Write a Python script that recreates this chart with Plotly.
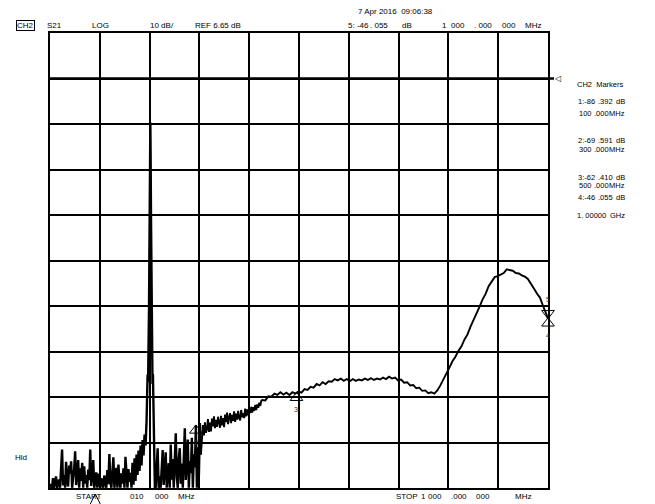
import plotly.graph_objects as go

# ---------------- data ----------------
# S21 trace, dB, swept in segments (start MHz, step MHz)
noise_a_start, noise_a_step = 10, 2
noise_a_db = [
    -83.3, -82.5, -83.3, -81.2, -83.3, -82.0, -80.8, -83.3, -82.6, -81.5,
    -83.3, -79.0, -74.9, -82.8, -80.5, -83.3, -77.6, -81.9, -83.0, -78.4,
    -80.2, -77.5, -83.3, -81.0, -79.2, -75.3, -82.7, -80.1, -77.2, -83.3,
    -79.0, -81.8, -77.8, -83.3, -78.6, -82.4, -80.5, -83.3, -79.3, -81.6,
    -74.9, -82.9, -80.3, -77.2, -83.3, -81.4, -79.9, -83.3, -80.2, -82.6,
    -83.3, -81.2, -82.8, -83.3, -80.6, -82.1, -83.3, -79.4, -82.5, -75.9,
    -82.0, -83.3, -79.8, -76.6, -83.3, -80.7, -78.9, -83.3, -78.2, -81.5,
    -83.3, -80.1, -82.4, -79.0, -83.3, -76.5, -81.6, -83.3, -79.2, -82.0,
    -80.0, -83.3, -77.8, -82.6, -76.8, -81.8, -76.0, -80.5, -75.1, -79.6,
    -74.0, -78.4, -72.8, -76.2, -71.6, -74.0,
]

spike_freq = [202, 203, 204, 205, 206, 206.8, 207.5, 208.2, 208.9, 209.5, 210.1,
              210.8, 211.5, 212.2, 213, 213.8, 214.6, 215.5, 216.5, 217.5, 218.5]
spike_db = [-68.5, -62.0, -58.4, -60.1, -55.0, -44.0, -33.0, -21.0, -10.0, -3.0, -11.5,
            -24.0, -36.0, -47.0, -57.5, -60.5, -58.3, -62.5, -69.0, -76.0, -83.3]

noise_b_start, noise_b_step = 220, 2
noise_b_db = [
    -83.3, -79.5, -74.6, -83.3, -80.8, -83.3, -78.9, -75.0, -82.7, -79.6,
    -75.5, -83.3, -80.2, -77.9, -83.3, -73.8, -81.5, -77.0, -83.3, -76.4,
    -71.3, -80.9, -83.3, -76.8, -74.6, -82.4, -78.0, -83.3, -73.5, -70.2,
    -81.6, -75.8, -72.7, -83.3, -77.4, -80.1, -72.3, -83.3, -75.9, -78.8,
    -69.6, -83.3, -74.4, -80.6, -69.1, -76.0,
]

rise_c_start, rise_c_step = 312, 2
rise_c_db = [
    -72.9, -69.5, -71.8, -68.9, -71.2, -70.4, -68.2, -71.0, -69.0, -70.9,
    -68.1, -69.8, -67.6, -70.2, -68.4, -69.9, -67.7, -69.4, -70.1, -67.5,
    -69.6, -68.0, -70.0, -67.2, -68.9, -66.8, -69.3, -67.9, -66.9, -69.1,
    -67.3, -68.6, -66.5, -68.8, -67.0, -68.3, -66.4, -67.9, -68.5, -66.2,
    -67.8, -66.9, -68.0, -65.9, -67.6, -66.1, -67.4, -65.8, -66.9, -65.5,
    -66.8, -65.6, -66.4, -65.1, -66.2, -65.0, -65.7, -64.6, -65.3, -64.2,
]

smooth_d_start, smooth_d_step = 432, 6
smooth_d_db = [
    -64.0, -64.1, -63.2, -63.3, -62.6, -62.9, -62.3, -62.8, -62.4, -62.9,
    -62.3, -62.6, -62.1, -62.4, -61.6, -61.8, -61.1, -61.3, -60.5, -60.8,
    -60.1, -60.5, -59.9, -60.0, -59.4, -59.7, -59.3, -59.8, -59.4, -59.9,
    -59.4, -59.8, -59.5, -59.7, -59.3, -59.6, -59.2, -59.6, -59.3, -59.5,
    -59.1, -59.4, -58.9, -59.3, -59.1, -59.7, -59.5, -60.2, -60.1, -60.8,
    -60.7, -61.4, -61.3, -62.0, -61.9, -62.5, -62.3, -62.6, -61.9, -60.8,
    -59.6, -58.1, -56.9, -55.5, -54.5, -53.2, -52.2, -50.7, -49.6, -47.9,
    -46.5, -44.8, -43.5, -41.9, -40.7, -39.0, -38.0, -37.0, -36.8, -36.5,
    -36.1, -35.3, -35.5, -35.6, -36.1, -36.2, -36.6, -36.9, -37.4, -38.6,
    -39.5, -40.6, -41.5, -43.3, -44.9,
]
stop_freq, stop_db = 1000, -46.055

# markers
marker_ids = ["1", "2", "3", "4", "5"]
marker_freq = [100, 300, 500, 1000, 1000]
marker_db = [-86.392, -69.591, -62.410, -46.055, -46.055]

# axes
x_start, x_stop, x_div = 10, 1000, 99
ref_db, db_div = 6.65, 10
y_bottom, y_top = ref_db - 9 * db_div, ref_db + db_div


def sweep(start, step, vals):
    return [start + i * step for i in range(len(vals))]


# noisy low-frequency part and the smoother upper part of the same trace
freq_low = (sweep(noise_a_start, noise_a_step, noise_a_db) + spike_freq
            + sweep(noise_b_start, noise_b_step, noise_b_db))
s21_low = noise_a_db + spike_db + noise_b_db
freq_high = ([freq_low[-1]] + sweep(rise_c_start, rise_c_step, rise_c_db)
             + sweep(smooth_d_start, smooth_d_step, smooth_d_db) + [stop_freq])
s21_high = [s21_low[-1]] + rise_c_db + smooth_d_db + [stop_db]

# ---------------- figure ----------------
PAGE_OFF = 8                      # default body margin of the html page
W, H = 655 - PAGE_OFF, 504 - PAGE_OFF
ML, MT = 50 - PAGE_OFF, 33 - PAGE_OFF
PW, PH = 498, 455
MR, MB = W - ML - PW, H - MT - PH
FONT = "Liberation Sans"
NB = "\u00a0"

fig = go.Figure()
fig.add_trace(go.Scatter(x=freq_low, y=s21_low, mode="lines",
                         line=dict(color="black", width=2.4), hoverinfo="skip"))
fig.add_trace(go.Scatter(x=freq_high, y=s21_high, mode="lines",
                         line=dict(color="black", width=1.9), hoverinfo="skip"))

# split markers: on-scale ones as scatter markers, off-scale ones parked below the graticule
on_up = [(f, d) for m, f, d in zip(marker_ids, marker_freq, marker_db) if m != "5" and y_bottom <= d <= y_top]
off_scale = [(f, d) for m, f, d in zip(marker_ids, marker_freq, marker_db) if d < y_bottom]
active = [(f, d) for m, f, d in zip(marker_ids, marker_freq, marker_db) if m == "5"]

fig.add_trace(go.Scatter(x=[p[0] for p in on_up], y=[p[1] for p in on_up], mode="markers",
                         cliponaxis=False,
                         marker=dict(symbol="triangle-up-open", size=11, color="black",
                                     line=dict(width=1, color="black"), standoff=5),
                         hoverinfo="skip"))
fig.add_trace(go.Scatter(x=[p[0] for p in active], y=[p[1] for p in active], mode="markers",
                         cliponaxis=False,
                         marker=dict(symbol="triangle-up-open", angle=180, size=11, color="black",
                                     line=dict(width=1, color="black"), standoff=5),
                         hoverinfo="skip"))

# off-scale marker: open triangle with its apex 6 px below the bottom graticule line
mhz_per_px = (x_stop - x_start) / PW
for f, d in off_scale:
    apex = -6 / PH
    base = apex - 11 / PH
    hw = 5.5 * mhz_per_px
    fig.add_shape(type="path", xref="x", yref="paper",
                  path=f"M {f} {apex} L {f + hw} {base} L {f - hw} {base} Z",
                  line=dict(color="black", width=1), fillcolor="rgba(0,0,0,0)")

# marker labels (in range)
label_shift = {"2": -17, "3": -17, "4": -17, "5": 19}
for mid, f, d in zip(marker_ids, marker_freq, marker_db):
    if mid in label_shift:
        fig.add_annotation(x=f, y=d, xref="x", yref="y", text=mid, showarrow=False,
                           yshift=label_shift[mid], font=dict(family=FONT, size=7, color="#333"))

# reference line
fig.add_shape(type="line", xref="paper", yref="y", x0=0, x1=(554 - 50) / PW,
              y0=ref_db, y1=ref_db, line=dict(color="black", width=2.4))
fig.add_annotation(xref="paper", yref="y", x=(552 - 50) / PW, y=ref_db, text="◁",
                   showarrow=False, xanchor="left", font=dict(family="DejaVu Sans", size=8, color="black"))


def px_x(px):
    return (px - PAGE_OFF - ML) / PW


def px_y(py):
    return (MT + PH - (py - PAGE_OFF)) / PH


def txt(px, py, s, anchor="left", size=8, **kw):
    fig.add_annotation(xref="paper", yref="paper", x=px_x(px), y=px_y(py), text=s,
                       showarrow=False, xanchor=anchor, yanchor="middle",
                       font=dict(family=FONT, size=size, color="black"), **kw)


# header
txt(25, 25, "CH2", anchor="center", bordercolor="black", borderwidth=1, borderpad=0)
txt(45, 25, "S21")
txt(90, 25, "LOG")
txt(148, 25, "10 dB/")
txt(193, 25, "REF 6.65 dB")
txt(356, 12, "7 Apr 2016" + NB * 2 + "09:06:38")
txt(346, 25, "5: -46")
txt(368, 25, ". 055")
txt(400, 25, "dB")
txt(440, 25, "1")
txt(449, 25, "000")
txt(472, 25, ". 000")
txt(500, 25, "000")
txt(523, 25, "MHz")

# marker table
TS = 7.5
txt(575, 84, "CH2" + NB * 2 + "Markers", size=TS)
rows = [
    (101, 113, "1:-86", ".392", "100", ".000"),
    (140, 149, "2:-69", ".591", "300", ".000"),
    (177, 185, "3:-62", ".410", "500", ".000"),
]
for y1, y2, a, b, c, d in rows:
    txt(576, y1, a, size=TS)
    txt(596, y1, b, size=TS)
    txt(627, y1, "dB", anchor="right", size=TS)
    txt(577, y2, c, size=TS)
    txt(592, y2, d, size=TS)
    txt(627, y2, "MHz", anchor="right", size=TS)
txt(576, 197, "4:-46", size=TS)
txt(596, 197, ".055", size=TS)
txt(627, 197, "dB", anchor="right", size=TS)
txt(575, 215, "1. 00000", size=TS)
txt(627, 215, "GHz", anchor="right", size=TS)

# left / bottom
txt(13, 457, "Hld")
txt(74, 497, "START")
txt(128, 497, "010")
txt(153, 497, "000")
txt(176, 497, "MHz")
txt(394, 497, "STOP")
txt(419, 497, "1")
txt(426, 497, "000")
txt(449, 497, ".000")
txt(474, 497, "000")
txt(513, 497, "MHz")

axis_common = dict(showgrid=True, gridcolor="black", gridwidth=1.5, showline=True, mirror=True,
                   linecolor="black", linewidth=1.5, showticklabels=False, zeroline=False,
                   ticks="", fixedrange=True)
fig.update_layout(
    width=W, height=H, margin=dict(l=ML, r=MR, t=MT, b=MB),
    paper_bgcolor="white", plot_bgcolor="white", showlegend=False,
    xaxis=dict(range=[x_start, x_stop], tick0=x_start, dtick=x_div, **axis_common),
    yaxis=dict(range=[y_bottom, y_top], tick0=ref_db, dtick=db_div, **axis_common),
)

fig.write_html("out.html")
